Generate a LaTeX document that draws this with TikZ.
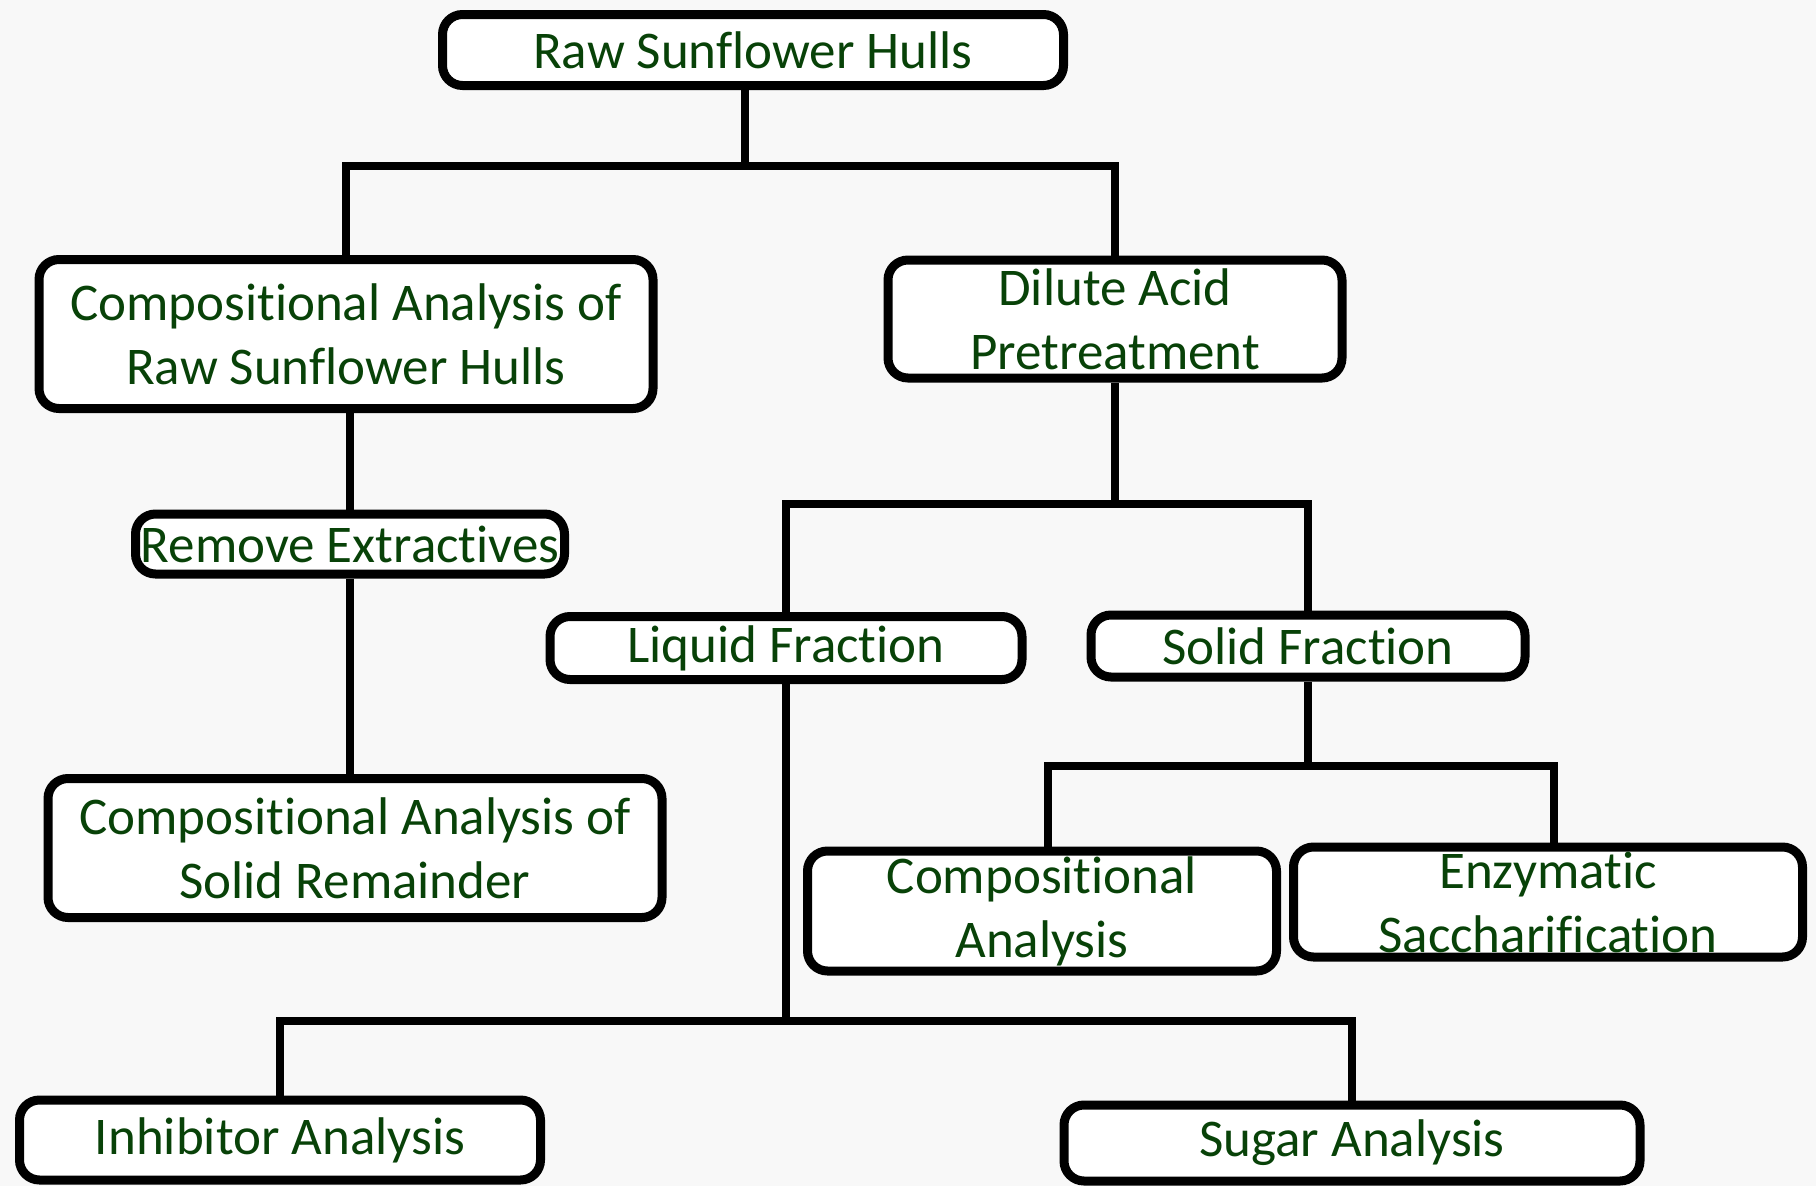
\documentclass[tikz,border=0pt]{standalone}
\usepackage{fontspec}
\setmainfont[RawFeature={-liga,-clig,-calt,-dlig}]{Carlito}
\definecolor{txtgreen}{RGB}{8,66,8}
\definecolor{bgcol}{RGB}{248,248,248}
\begin{document}
\begin{tikzpicture}[x=1pt,y=-1pt,
  box/.style={draw=black, line width=9pt, rounded corners=20pt, fill=white,
    text=txtgreen, align=center, inner sep=0pt,
    font=\fontsize{53}{64}\selectfont},
  conn/.style={line width=8.5pt, draw=black}]
\fill[bgcol] (0,0) rectangle (1816,1186);
\useasboundingbox (0,0) rectangle (1816,1186);

% junction points of the connectors
\coordinate (j1) at (745,166);
\coordinate (j2) at (1114,504);
\coordinate (j3) at (1306,766);
\coordinate (j4) at (788,1021);

% nodes
\node[box, minimum width=621pt, minimum height=71pt] (raw) at (753,50) {Raw Sunflower Hulls};
\node[box, minimum width=614pt, minimum height=149pt] (craw) at (346,334) {Compositional Analysis of\\Raw Sunflower Hulls};
\node[box, minimum width=454pt, minimum height=118pt] (dil) at (1115,319) {Dilute Acid\\Pretreatment};
\node[box, minimum width=429pt, minimum height=60pt] (rem) at (350,544) {Remove Extractives};
\node[box, minimum width=614pt, minimum height=139pt] (csol) at (355,848) {Compositional Analysis of\\Solid Remainder};
\node[box, minimum width=472pt, minimum height=63pt] (liq) at (786,648) {Liquid Fraction};
\node[box, minimum width=434pt, minimum height=62pt] (sol) at (1308,646) {Solid Fraction};
\node[box, minimum width=469pt, minimum height=120pt] (ca) at (1042,911) {Compositional\\Analysis};
\node[box, minimum width=509pt, minimum height=110pt] (enz) at (1548,902) {Enzymatic\\Saccharification};
\node[box, minimum width=521pt, minimum height=80pt] (inh) at (280,1140) {Inhibitor Analysis};
\node[box, minimum width=576pt, minimum height=76pt] (sug) at (1352,1143) {Sugar Analysis};

% connectors
\draw[conn] (raw.south -| j1) -- (j1);
\draw[conn] (craw.north) |- (j1) -| (dil.north);
\draw[conn] (craw.south -| rem.north) -- (rem.north);
\draw[conn] (rem.south) -- (rem.south |- csol.north);
\draw[conn] (dil.south) -- (dil.south |- j2);
\draw[conn] (liq.north) |- (j2) -| (sol.north);
\draw[conn] (sol.south) -- (sol.south |- j3);
\draw[conn] ([xshift=6pt]ca.north) |- (j3) -| ([xshift=6pt]enz.north);
\draw[conn] (liq.south) -- (liq.south |- j4);
\draw[conn] (inh.north) |- (j4) -| (sug.north);
\end{tikzpicture}
\end{document}
